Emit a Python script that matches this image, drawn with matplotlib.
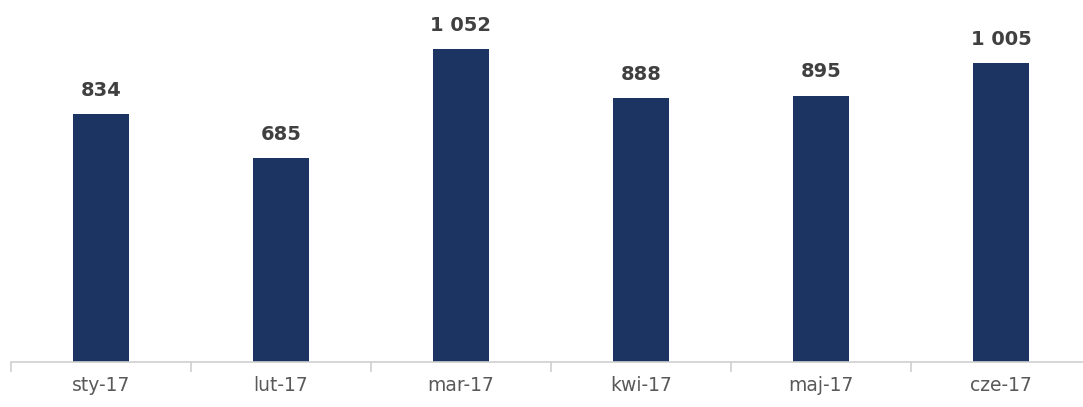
import matplotlib.pyplot as plt

months = ['sty-17', 'lut-17', 'mar-17', 'kwi-17', 'maj-17', 'cze-17']
values = [834, 685, 1052, 888, 895, 1005]

fig = plt.figure(figsize=(10.83, 4.07), dpi=100)
# axes runs a bit past the right edge, like the source
ax = fig.add_axes([11 / 1083, 45 / 407, 1080 / 1083, 357 / 407])

x = range(len(months))
ax.bar(x, values, width=0.31, color='#1c3461')
for xi, v in zip(x, values):
    ax.text(xi, v + 48, f'{v:,}'.replace(',', ' '), ha='center', va='bottom',
            fontsize=14, fontweight='bold', color='#404040')

ax.set_xlim(-0.5, len(months) - 0.5)
ax.set_ylim(0, 1200)
ax.set_yticks([])
ax.set_xticks(list(x))
ax.set_xticklabels(months, fontsize=13.5, color='#595959')
ax.tick_params(axis='x', length=0, pad=10)
# boundary tick marks between categories
ax.set_xticks([i - 0.5 for i in range(len(months) + 1)], minor=True)
ax.tick_params(axis='x', which='minor', length=7, color='#d0d0d0', width=1.2)

for s in ['top', 'right', 'left']:
    ax.spines[s].set_visible(False)
ax.spines['bottom'].set_color('#d0d0d0')
ax.spines['bottom'].set_linewidth(1.2)

fig.savefig('out.png', dpi=100)
